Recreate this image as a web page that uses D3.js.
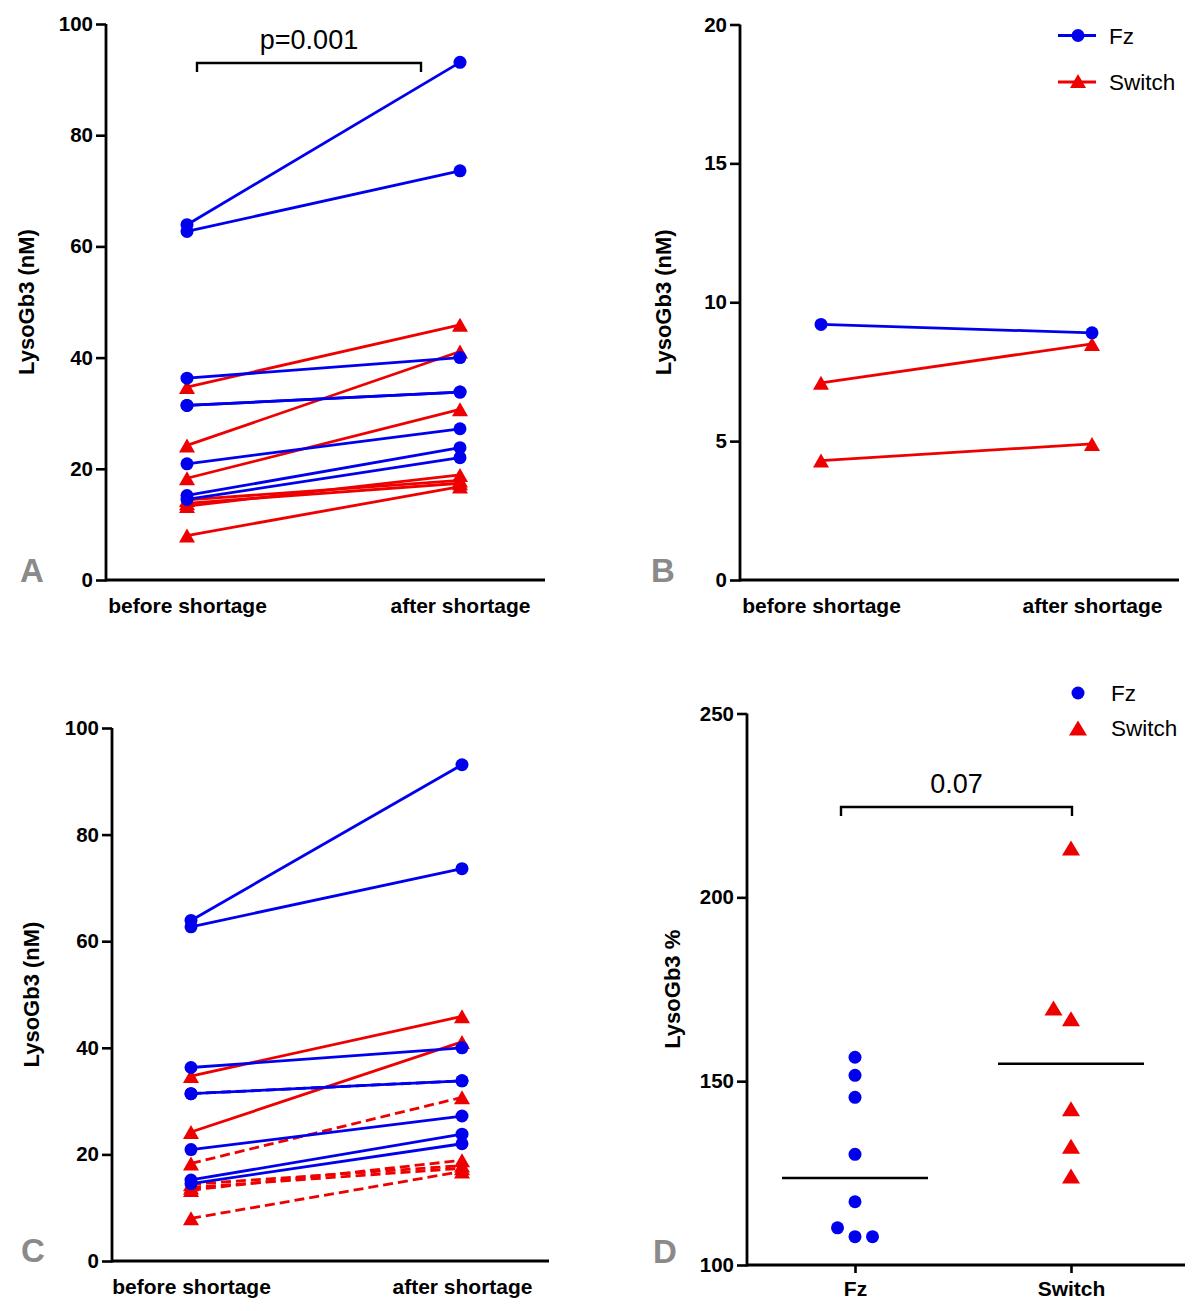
<!DOCTYPE html>
<html>
<head>
<meta charset="utf-8">
<script src="https://cdn.jsdelivr.net/npm/d3@7"></script>
<style>
  html, body { margin: 0; padding: 0; background: #fff; }
  svg { display: block; }
  text { font-family: "Liberation Sans", Arial, sans-serif; }
</style>
</head>
<body>
<svg id="chart" width="1200" height="1311"></svg>
<script>
// ---------------- DATA ----------------
const periods = ["before shortage", "after shortage"];
const groups = ["Fz", "Switch"];

// Panels A and C: paired LysoGb3 (nM), before / after shortage
const fzBefore = [63.9, 62.7, 36.3, 31.4, 31.4, 20.9, 15.2, 14.5];
const fzAfter  = [93.1, 73.6, 40.0, 33.8, 33.8, 27.2, 23.8, 22.0];
const swBefore = [34.7, 24.2, 18.3, 13.3, 14.4, 13.8, 8.0];
const swAfter  = [45.9, 41.1, 30.7, 18.9, 17.9, 17.4, 16.8];
// Panel C: subjects drawn as a separate subgroup (dashed)
const fzSubgroupC = [false, false, false, false, true, false, false, false];
const swSubgroupC = [false, false, true, true, true, true, true];

// Panel B: paired LysoGb3 (nM)
const bFzBefore = [9.2];
const bFzAfter  = [8.9];
const bSwBefore = [7.1, 4.3];
const bSwAfter  = [8.5, 4.9];

// Panel D: LysoGb3 % (after / before)
const dFz     = [156.5, 151.6, 145.6, 130.1, 117.2, 107.7, 110.1, 107.7];
const dSwitch = [213.4, 167.0, 169.9, 142.5, 132.3, 124.2];

// Tick labels
const ticksAC = [0, 20, 40, 60, 80, 100];
const ticksB  = [0, 5, 10, 15, 20];
const ticksD  = [100, 150, 200, 250];

// ---------------- STYLE ----------------
const BLUE = "#0000ee", RED = "#ee0000";
const FONT = '"Liberation Sans", Arial, sans-serif';
const svg = d3.select("#chart");

function triPath(w, h) {
  return `M0,${-h/2}L${w/2},${h/2}L${-w/2},${h/2}Z`;
}

function drawAxes(g, x, y, ticks, opts) {
  const [y0, y1] = y.range();
  const ya = g.append("g").attr("transform", `translate(${opts.axisX},0)`)
    .call(d3.axisLeft(y).tickValues(ticks).tickSize(10).tickPadding(3).tickSizeOuter(0));
  ya.select(".domain").attr("stroke", "#000").attr("stroke-width", 2.8)
    .attr("d", `M0,${y0 + 1.4}V${y1}`);
  ya.selectAll(".tick line").attr("stroke", "#000").attr("stroke-width", 2.6);
  ya.selectAll(".tick text").attr("font-family", FONT).attr("font-size", 20.5)
    .attr("font-weight", "bold").attr("fill", "#000");
  const xa = g.append("g").attr("transform", `translate(0,${y0})`)
    .call(d3.axisBottom(x).tickSize(opts.xTicks ? 8 : 0).tickPadding(opts.xPad).tickSizeOuter(0));
  xa.select(".domain").attr("stroke", "#000").attr("stroke-width", 2.8)
    .attr("d", `M${opts.axisX},0H${opts.axisRight}`);
  xa.selectAll(".tick line").attr("stroke", "#000").attr("stroke-width", 2.6);
  xa.selectAll(".tick text").attr("font-family", FONT).attr("font-size", 21)
    .attr("font-weight", "bold").attr("fill", "#000").attr("dy", "0.71em");
  g.append("text")
    .attr("transform", `translate(${opts.titleX},${(y0 + y1) / 2}) rotate(-90)`)
    .attr("text-anchor", "middle").attr("font-size", 22).attr("font-weight", "bold")
    .attr("fill", "#000").text(opts.title);
  g.append("text").attr("x", opts.letterX).attr("y", opts.letterY)
    .attr("font-size", 33).attr("font-weight", "bold").attr("fill", "#8a8a8a")
    .text(opts.letter);
}

function drawPairs(g, x, y, before, after, color, marker, dashedFlags) {
  const pairs = before.map((b, i) => ({ b, a: after[i], dashed: dashedFlags ? dashedFlags[i] : false }));
  const line = d3.line().x(d => x(d[0])).y(d => y(d[1]));
  g.selectAll(null).data(pairs).enter().append("path")
    .attr("d", d => line([[periods[0], d.b], [periods[1], d.a]]))
    .attr("fill", "none").attr("stroke", color).attr("stroke-width", 2.8)
    .attr("stroke-dasharray", d => d.dashed ? "10,5" : null);
  const pts = [];
  pairs.forEach(d => { pts.push([periods[0], d.b]); pts.push([periods[1], d.a]); });
  if (marker === "circle") {
    g.selectAll(null).data(pts).enter().append("circle")
      .attr("cx", d => x(d[0])).attr("cy", d => y(d[1])).attr("r", 6.5).attr("fill", color);
  } else {
    g.selectAll(null).data(pts).enter().append("path")
      .attr("d", triPath(16, 14))
      .attr("transform", d => `translate(${x(d[0])},${y(d[1])})`).attr("fill", color);
  }
}

function legend(g, x, yFz, ySw, withLine) {
  if (withLine) {
    g.append("line").attr("x1", x - 20).attr("x2", x + 18).attr("y1", yFz).attr("y2", yFz)
      .attr("stroke", BLUE).attr("stroke-width", 2.8);
    g.append("line").attr("x1", x - 20).attr("x2", x + 18).attr("y1", ySw).attr("y2", ySw)
      .attr("stroke", RED).attr("stroke-width", 2.8);
  }
  g.append("circle").attr("cx", x).attr("cy", yFz).attr("r", 6.5).attr("fill", BLUE);
  g.append("path").attr("d", withLine ? triPath(16, 14) : triPath(18, 15))
    .attr("transform", `translate(${x},${ySw - (withLine ? 1 : 0)})`).attr("fill", RED);
  g.append("text").attr("x", x + 31 + (withLine ? 0 : 2)).attr("y", yFz).attr("dy", "0.36em")
    .attr("font-size", 22.5).attr("fill", "#000").text(groups[0]);
  g.append("text").attr("x", x + 31 + (withLine ? 0 : 2)).attr("y", ySw).attr("dy", "0.36em")
    .attr("font-size", 22.5).attr("fill", "#000").text(groups[1]);
}

function bracket(g, x1, x2, yTop, drop, label, size) {
  g.append("path").attr("d", `M${x1},${yTop + drop}V${yTop}H${x2}V${yTop + drop}`)
    .attr("fill", "none").attr("stroke", "#000").attr("stroke-width", 2.4);
  g.append("text").attr("x", (x1 + x2) / 2).attr("y", yTop - 14)
    .attr("text-anchor", "middle").attr("font-size", size).attr("fill", "#000").text(label);
}

// ---------------- PANEL A ----------------
{
  const g = svg.append("g");
  const x = d3.scalePoint().domain(periods).range([187, 460]);
  const y = d3.scaleLinear().domain([0, 100]).range([580, 24]);
  drawAxes(g, x, y, ticksAC, { axisX: 106, axisRight: 545, xTicks: false, xPad: 18,
    title: "LysoGb3 (nM)", titleX: 34, letter: "A", letterX: 20, letterY: 582 });
  drawPairs(g, x, y, swBefore, swAfter, RED, "tri");
  drawPairs(g, x, y, fzBefore, fzAfter, BLUE, "circle");
  bracket(g, 197, 421, 63, 9, "p=0.001", 27);
}

// ---------------- PANEL B ----------------
{
  const g = svg.append("g");
  const x = d3.scalePoint().domain(periods).range([821, 1092]);
  const y = d3.scaleLinear().domain([0, 20]).range([580, 24.5]);
  drawAxes(g, x, y, ticksB, { axisX: 740, axisRight: 1179, xTicks: false, xPad: 18,
    title: "LysoGb3 (nM)", titleX: 671, letter: "B", letterX: 651, letterY: 582 });
  drawPairs(g, x, y, bSwBefore, bSwAfter, RED, "tri");
  drawPairs(g, x, y, bFzBefore, bFzAfter, BLUE, "circle");
  legend(g, 1078, 35.5, 82, true);
}

// ---------------- PANEL C ----------------
{
  const g = svg.append("g");
  const x = d3.scalePoint().domain(periods).range([191, 462]);
  const y = d3.scaleLinear().domain([0, 100]).range([1261, 728]);
  drawAxes(g, x, y, ticksAC, { axisX: 112, axisRight: 549, xTicks: false, xPad: 18,
    title: "LysoGb3 (nM)", titleX: 39, letter: "C", letterX: 21, letterY: 1262 });
  drawPairs(g, x, y, swBefore, swAfter, RED, "tri", swSubgroupC);
  drawPairs(g, x, y, fzBefore, fzAfter, BLUE, "circle", fzSubgroupC);
}

// ---------------- PANEL D ----------------
{
  const g = svg.append("g");
  const x = d3.scalePoint().domain(groups).range([855, 1071]);
  const y = d3.scaleLinear().domain([100, 250]).range([1265, 713.5]);
  drawAxes(g, x, y, ticksD, { axisX: 747, axisRight: 1185, xTicks: true, xPad: 8,
    title: "LysoGb3 %", titleX: 680, letter: "D", letterX: 653, letterY: 1263 });

  // simple dodge: points closer than a marker height share a row and are moved aside
  function dodge(values, step, minGap) {
    const placed = [];
    return values.map(v => {
      const py = y(v);
      for (const off of [0, -step, step, -2 * step, 2 * step]) {
        if (!placed.some(p => p.off === off && Math.abs(p.py - py) < minGap)) {
          placed.push({ off, py });
          return { v, off };
        }
      }
      return { v, off: 0 };
    });
  }
  const fzPts = dodge(dFz, 17.5, 12);
  const swPts = dodge(dSwitch, 17.5, 14);

  [[groups[0], dFz], [groups[1], dSwitch]].forEach(([grp, vals]) => {
    const m = d3.median(vals);
    g.append("line").attr("x1", x(grp) - 73).attr("x2", x(grp) + 73)
      .attr("y1", y(m)).attr("y2", y(m)).attr("stroke", "#000").attr("stroke-width", 2.4);
  });

  g.selectAll(null).data(fzPts).enter().append("circle")
    .attr("cx", d => x(groups[0]) + d.off).attr("cy", d => y(d.v)).attr("r", 6.5).attr("fill", BLUE);
  g.selectAll(null).data(swPts).enter().append("path")
    .attr("d", triPath(18, 15))
    .attr("transform", d => `translate(${x(groups[1]) + d.off},${y(d.v)})`).attr("fill", RED);

  bracket(g, 841, 1072, 807, 9, "0.07", 27);
  legend(g, 1078, 693, 728, false);
}
</script>
</body>
</html>
